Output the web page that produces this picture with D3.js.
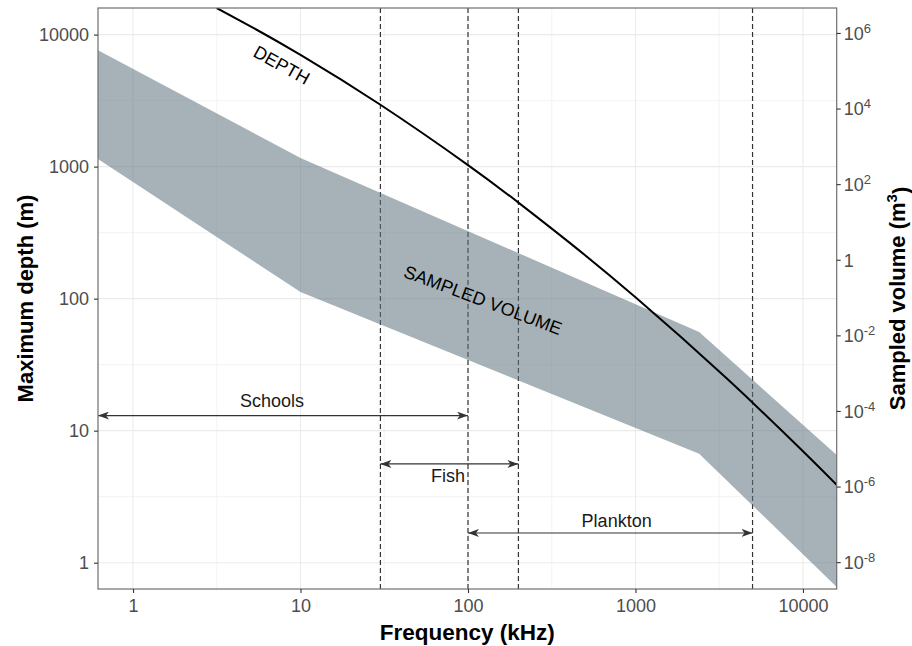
<!DOCTYPE html>
<html>
<head>
<meta charset="utf-8">
<script src="https://cdn.jsdelivr.net/npm/d3@7"></script>
<style>
  body { margin: 0; background: #fff; }
  text { font-family: "Liberation Sans", Arial, sans-serif; }
</style>
</head>
<body>
<div id="chart"></div>
<script>
// depth curve (m) against frequency (kHz)
var depthFreq = [3.16, 5, 10, 30, 100, 200, 400, 1000, 3500, 10000, 15900];
var depthVal  = [15900, 11600, 7020, 2940, 1027, 534, 268, 102.4, 24.9, 6.98, 3.88];

// sampled volume band (m^3)
var bandFreq  = [0.618, 10, 2400, 15900];
var bandUpper = [3.5e5, 492, 0.0123, 6.8e-6];
var bandLower = [462, 0.14, 7.4e-6, 2.2e-9];

// frequency limits of targets
var vlines = [30, 100, 200, 5000];
var ranges = [
  {label: "Schools",  from: 0.618, to: 100,  depth: 13,  lx: 6.76, ly: 15.1},
  {label: "Fish",     from: 30,    to: 200,  depth: 5.6, lx: 76,   ly: 4.08},
  {label: "Plankton", from: 100,   to: 5000, depth: 1.68, lx: 772, ly: 1.865}
];

var xTicks = [1, 10, 100, 1000, 10000];
var yTicks = [1, 10, 100, 1000, 10000];
var yRTicks = [6, 4, 2, 0, -2, -4, -6, -8];

var margin = {top: 8, right: 75.3, bottom: 57, left: 98},
    width = 912 - margin.left - margin.right,
    height = 646 - margin.top - margin.bottom;

var svg = d3.select("#chart")
  .append("svg")
    .attr("width", 912)
    .attr("height", 646)
  .append("g")
    .attr("transform", "translate(" + margin.left + "," + margin.top + ")");

var x = d3.scaleLog().domain([0.618, 15900]).range([0, width]);
var y = d3.scaleLog().domain([0.632, 15900]).range([height, 0]);
var yR = d3.scaleLog().domain([Math.pow(10, -8.71), Math.pow(10, 6.66)]).range([height, 0]);

svg.append("defs").append("clipPath").attr("id", "clip")
  .append("rect").attr("width", width).attr("height", height);

// grid
var minorX = [0.316, 3.162, 31.62, 316.2, 3162];
var minorY = [3.162, 31.62, 316.2, 3162];
var grid = svg.append("g");
grid.selectAll(".mx").data(minorX.filter(function(d){ return d > 0.618; })).enter()
  .append("line").attr("x1", d => x(d)).attr("x2", d => x(d))
  .attr("y1", 0).attr("y2", height).attr("stroke", "#f0f0f0").attr("stroke-width", 0.8);
grid.selectAll(".my").data(minorY).enter()
  .append("line").attr("y1", d => y(d)).attr("y2", d => y(d))
  .attr("x1", 0).attr("x2", width).attr("stroke", "#f0f0f0").attr("stroke-width", 0.8);
grid.selectAll(".gx").data(xTicks).enter()
  .append("line").attr("x1", d => x(d)).attr("x2", d => x(d))
  .attr("y1", 0).attr("y2", height).attr("stroke", "#ebebeb").attr("stroke-width", 1.1);
grid.selectAll(".gy").data(yTicks).enter()
  .append("line").attr("y1", d => y(d)).attr("y2", d => y(d))
  .attr("x1", 0).attr("x2", width).attr("stroke", "#ebebeb").attr("stroke-width", 1.1);

// dashed frequency limits
svg.selectAll(".vl").data(vlines).enter()
  .append("line")
    .attr("x1", d => x(d)).attr("x2", d => x(d))
    .attr("y1", 0).attr("y2", height)
    .attr("stroke", "#333").attr("stroke-width", 1.2)
    .attr("stroke-dasharray", "5,3");

// band
var band = bandFreq.map(function(f, i){ return {f: f, lo: bandLower[i], hi: bandUpper[i]}; });
svg.append("path")
  .datum(band)
  .attr("fill", "#5d727c")
  .attr("fill-opacity", 0.55)
  .attr("d", d3.area()
    .x(d => x(d.f))
    .y0(d => yR(d.lo))
    .y1(d => yR(d.hi)));

// depth line
var depth = depthFreq.map(function(f, i){ return {f: f, d: depthVal[i]}; });
svg.append("path")
  .datum(depth)
  .attr("clip-path", "url(#clip)")
  .attr("fill", "none")
  .attr("stroke", "#000")
  .attr("stroke-width", 2)
  .attr("d", d3.line()
    .curve(d3.curveNatural)
    .x(d => x(d.f))
    .y(d => y(d.d)));

// arrows
var defs = svg.select("defs");
["start", "end"].forEach(function(k){
  defs.append("marker")
    .attr("id", "arr-" + k)
    .attr("markerUnits", "userSpaceOnUse")
    .attr("markerWidth", 12).attr("markerHeight", 10)
    .attr("refX", k == "end" ? 11 : 0).attr("refY", 4)
    .attr("orient", "auto")
    .append("path")
      .attr("d", k == "end" ? "M0,0 L11,4 L0,8 L3,4 Z" : "M11,0 L0,4 L11,8 L8,4 Z")
      .attr("fill", "#333");
});
svg.selectAll(".rng").data(ranges).enter()
  .append("line")
    .attr("x1", d => x(d.from)).attr("x2", d => x(d.to))
    .attr("y1", d => y(d.depth)).attr("y2", d => y(d.depth))
    .attr("stroke", "#333").attr("stroke-width", 1.1)
    .attr("marker-start", "url(#arr-start)")
    .attr("marker-end", "url(#arr-end)");
svg.selectAll(".rlab").data(ranges).enter()
  .append("text")
    .attr("x", d => x(d.lx)).attr("y", d => y(d.ly))
    .attr("text-anchor", "middle")
    .attr("font-size", 18).attr("fill", "#1a1a1a")
    .text(d => d.label);

// curve labels
svg.append("text")
  .attr("transform", "translate(" + x(7.72) + "," + y(5890) + ") rotate(29)")
  .attr("text-anchor", "middle").attr("dy", "0.35em")
  .attr("font-size", 18).attr("fill", "#000")
  .text("DEPTH");
svg.append("text")
  .attr("transform", "translate(" + x(123) + "," + y(97.7) + ") rotate(20.5)")
  .attr("text-anchor", "middle").attr("dy", "0.35em")
  .attr("font-size", 18).attr("fill", "#000")
  .text("SAMPLED VOLUME");

// panel border
svg.append("rect").attr("width", width).attr("height", height)
  .attr("fill", "none").attr("stroke", "#6e6e6e").attr("stroke-width", 1.2);

// axes
var ax = svg.append("g").attr("transform", "translate(0," + height + ")")
  .call(d3.axisBottom(x).tickValues(xTicks).tickFormat(d3.format("d")).tickSize(4).tickPadding(6));
var ay = svg.append("g")
  .call(d3.axisLeft(y).tickValues(yTicks).tickFormat(d3.format("d")).tickSize(4).tickPadding(5));
var ar = svg.append("g").attr("transform", "translate(" + width + ",0)")
  .call(d3.axisRight(yR).tickValues(yRTicks.map(e => Math.pow(10, e))).tickFormat("").tickSize(4));
[ax, ay, ar].forEach(function(g){
  g.select(".domain").remove();
  g.selectAll(".tick line").attr("stroke", "#333").attr("stroke-width", 1.1);
  g.selectAll(".tick text").attr("font-size", 18).attr("fill", "#4d4d4d")
    .attr("font-family", "Liberation Sans, Arial, sans-serif");
});
ar.selectAll(".tick").each(function(d, i){
  var e = yRTicks[i];
  var t = d3.select(this).append("text")
    .attr("x", 7).attr("dy", "0.35em")
    .attr("font-size", 18).attr("fill", "#4d4d4d");
  if (e == 0) { t.text("1"); return; }
  t.append("tspan").text("10");
  t.append("tspan").attr("dy", "-0.55em").attr("font-size", 13).text(e);
});

// axis titles
svg.append("text")
  .attr("x", width / 2).attr("y", height + 51)
  .attr("text-anchor", "middle")
  .attr("font-size", 22.5).attr("font-weight", "bold")
  .text("Frequency (kHz)");
svg.append("text")
  .attr("transform", "translate(" + (-65) + "," + (height / 2) + ") rotate(-90)")
  .attr("text-anchor", "middle")
  .attr("font-size", 22).attr("font-weight", "bold")
  .text("Maximum depth (m)");
var rt = svg.append("text")
  .attr("transform", "translate(" + (width + 68) + "," + (height / 2) + ") rotate(-90)")
  .attr("text-anchor", "middle")
  .attr("font-size", 22).attr("font-weight", "bold");
rt.append("tspan").text("Sampled volume (m");
rt.append("tspan").attr("dy", "-0.5em").attr("font-size", 15).text("3");
rt.append("tspan").attr("dy", "0.5em").text(")");
</script>
</body>
</html>
